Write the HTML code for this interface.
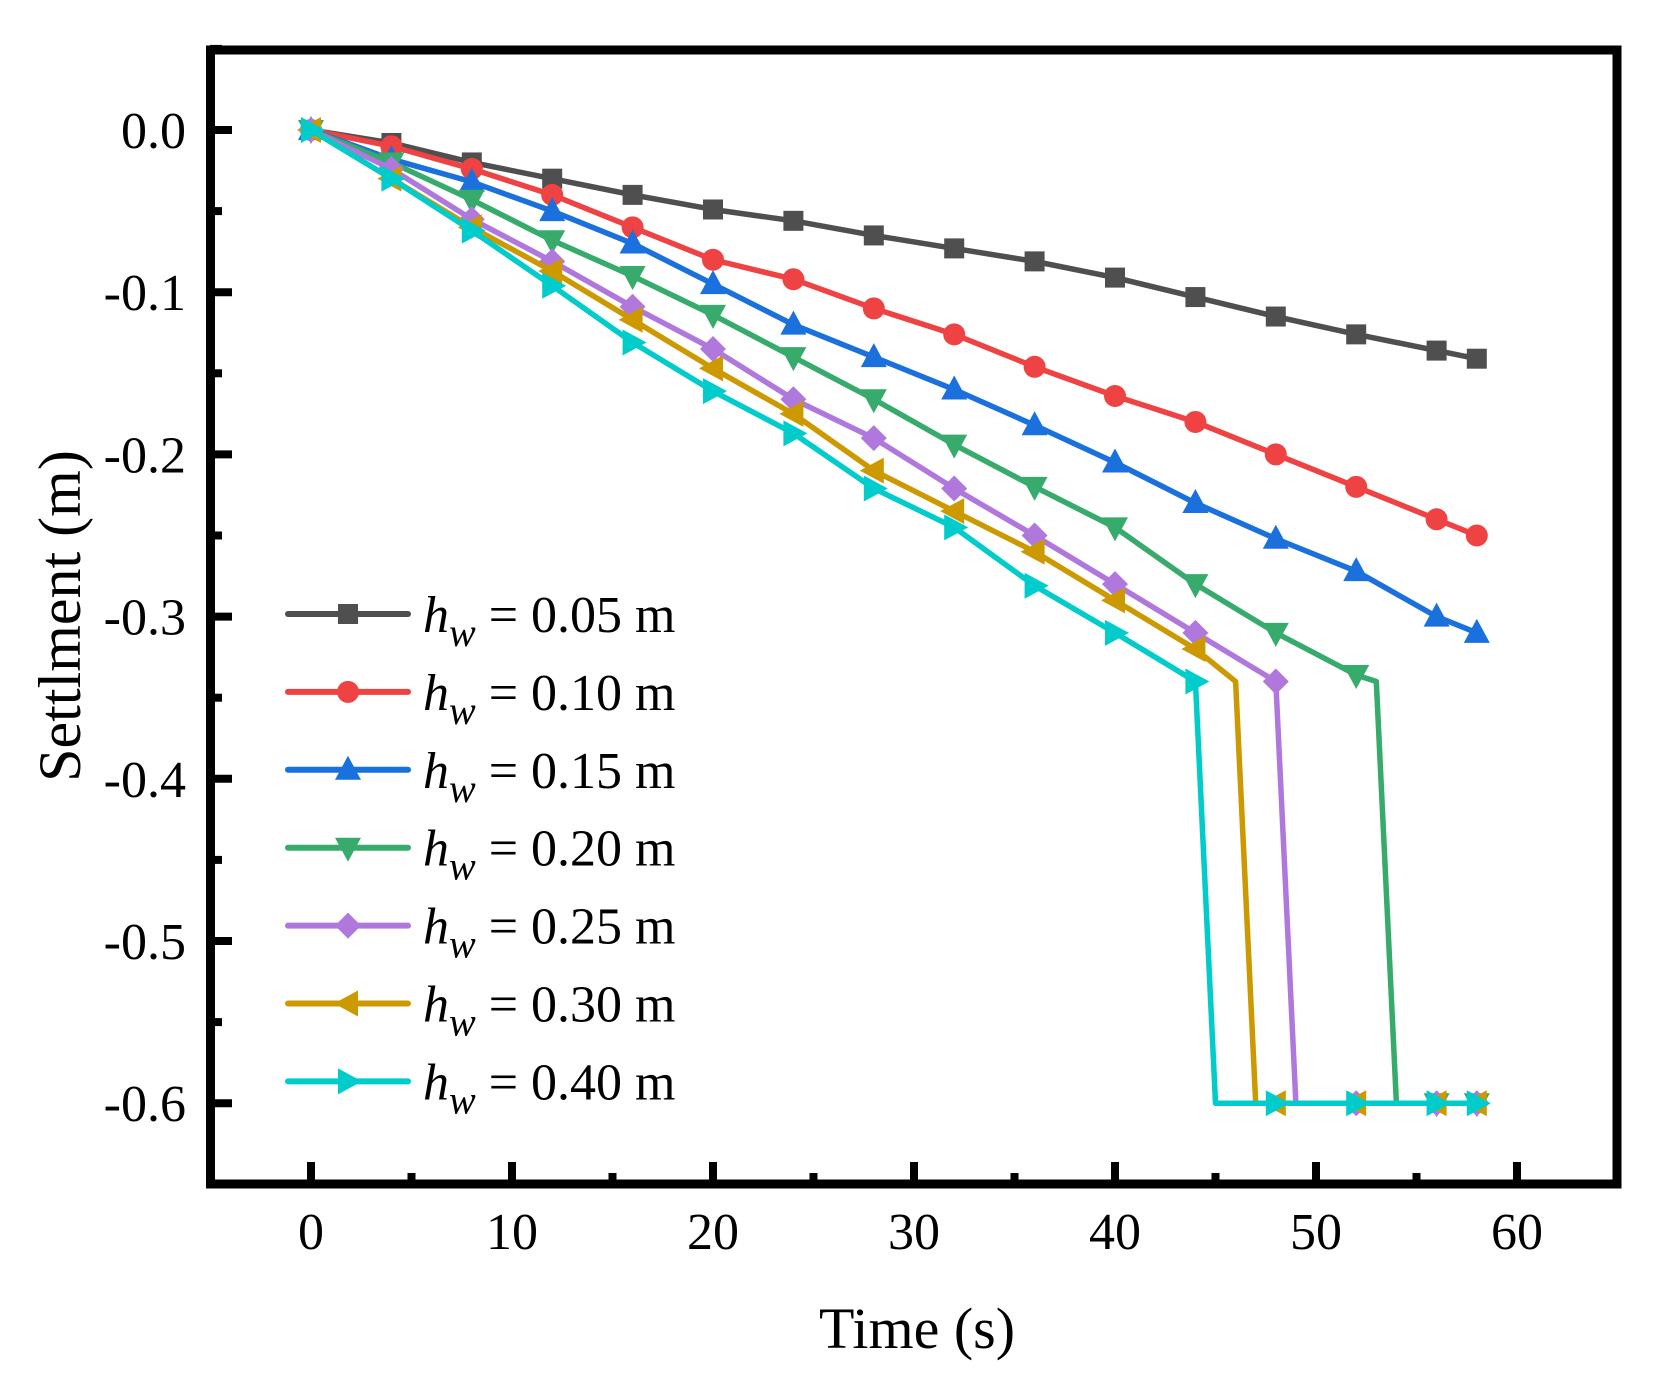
<!DOCTYPE html>
<html><head><meta charset="utf-8"><style>
html,body{margin:0;padding:0;background:#fff;}
svg{display:block;font-family:"Liberation Serif",serif;}
</style></head>
<body>
<svg id="chart" width="1659" height="1379" viewBox="0 0 1659 1379" xmlns="http://www.w3.org/2000/svg">
<g id="plot"></g>
<g id="axes"></g>
<g id="legend"></g>
</svg>
<script>
const xTicks = [0,10,20,30,40,50,60];
const xTickLabels = ["0","10","20","30","40","50","60"];
const yTicks = [0,-0.1,-0.2,-0.3,-0.4,-0.5,-0.6];
const yTickLabels = ["0.0","-0.1","-0.2","-0.3","-0.4","-0.5","-0.6"];
const seriesNames = ["0.05","0.10","0.15","0.20","0.25","0.30","0.40"];
const tA = [0,4,8,12,16,20,24,28,32,36,40,44,48,52,56,58];
const s005 = [0,-0.008,-0.02,-0.03,-0.04,-0.049,-0.056,-0.065,-0.073,-0.081,-0.091,-0.103,-0.115,-0.126,-0.136,-0.141];
const s010 = [0,-0.01,-0.024,-0.04,-0.06,-0.08,-0.092,-0.11,-0.126,-0.146,-0.164,-0.18,-0.2,-0.22,-0.24,-0.25];
const s015 = [0,-0.018,-0.032,-0.05,-0.07,-0.095,-0.12,-0.14,-0.16,-0.182,-0.205,-0.23,-0.252,-0.272,-0.30,-0.31];
const t020 = [0,4,8,12,16,20,24,28,32,36,40,44,48,52,53,54,56,58];
const s020 = [0,-0.02,-0.043,-0.068,-0.09,-0.114,-0.14,-0.166,-0.194,-0.22,-0.245,-0.28,-0.31,-0.336,-0.34,-0.6,-0.6,-0.6];
const t025 = [0,4,8,12,16,20,24,28,32,36,40,44,48,49,52,56,58];
const s025 = [0,-0.024,-0.055,-0.081,-0.109,-0.135,-0.166,-0.19,-0.221,-0.25,-0.28,-0.31,-0.34,-0.6,-0.6,-0.6,-0.6];
const t030 = [0,4,8,12,16,20,24,28,32,36,40,44,46,47,48,52,56,58];
const s030 = [0,-0.03,-0.06,-0.087,-0.117,-0.147,-0.175,-0.21,-0.235,-0.26,-0.29,-0.32,-0.34,-0.6,-0.6,-0.6,-0.6,-0.6];
const t040 = [0,4,8,12,16,20,24,28,32,36,40,44,45,48,52,56,58];
const s040 = [0,-0.03,-0.062,-0.096,-0.131,-0.161,-0.187,-0.221,-0.245,-0.281,-0.31,-0.34,-0.6,-0.6,-0.6,-0.6,-0.6];

const NS="http://www.w3.org/2000/svg";
function X(t){return 311+(t/10)*201;}
function Y(v){return 130-(v/0.1)*(-162.2)*-1;}
function mk(tag,attrs,parent){const e=document.createElementNS(NS,tag);for(const k in attrs)e.setAttribute(k,attrs[k]);parent.appendChild(e);return e;}
const plot=document.getElementById('plot'),axes=document.getElementById('axes'),legend=document.getElementById('legend');

const series=[
 {t:tA,v:s005,c:"#4f4f4f",m:"square"},
 {t:tA,v:s010,c:"#ef4242",m:"circle"},
 {t:tA,v:s015,c:"#1a70dc",m:"up"},
 {t:t020,v:s020,c:"#37ab6b",m:"down"},
 {t:t025,v:s025,c:"#b078dc",m:"diamond"},
 {t:t030,v:s030,c:"#cc9900",m:"left"},
 {t:t040,v:s040,c:"#00cccc",m:"right"}
];
function marker(type,x,y,c,parent){
 const r=12;let e;
 if(type==="square")e=mk('rect',{x:x-10,y:y-10,width:20,height:20,fill:c},parent);
 else if(type==="circle")e=mk('circle',{cx:x,cy:y,r:11,fill:c},parent);
 else{let p;
  if(type==="up")p=[[x,y-r-2],[x-r-1,y+r-2],[x+r+1,y+r-2]];
  if(type==="down")p=[[x,y+r+2],[x-r-1,y-r+2],[x+r+1,y-r+2]];
  if(type==="left")p=[[x-r-2,y],[x+r-2,y-r-1],[x+r-2,y+r+1]];
  if(type==="right")p=[[x+r+2,y],[x-r+2,y-r-1],[x-r+2,y+r+1]];
  if(type==="diamond")p=[[x,y-r-1],[x+r+1,y],[x,y+r+1],[x-r-1,y]];
  e=mk('polygon',{points:p.map(q=>q.join(',')).join(' '),fill:c},parent);}
 return e;
}
series.forEach((s,i)=>{
 const g=mk('g',{},plot);
 
 
 const pts=s.t.map((t,j)=>X(t)+','+Y(s.v[j])).join(' ');
 const pl=mk('polyline',{points:pts,fill:'none',stroke:s.c,'stroke-width':5.5,'stroke-linejoin':'round'},g);
 
 
 s.t.forEach((t,j)=>{if(t%4===0||t===58){const m=marker(s.m,X(t),Y(s.v[j]),s.c,g);
  
  }});
});

// frame
const fr=mk('rect',{x:210.5,y:50,width:1406.5,height:1134,fill:'none',stroke:'#000','stroke-width':9},axes);


// x ticks
xTicks.forEach((t,i)=>{
 const l=mk('line',{x1:X(t),x2:X(t),y1:1184,y2:1162,stroke:'#000','stroke-width':8},axes);
 
 
 const tx=mk('text',{x:X(t),y:1249,'font-size':52,'text-anchor':'middle',fill:'#000'},axes);
 tx.textContent=xTickLabels[i];
 
 
 if(i<xTicks.length-1){const m=mk('line',{x1:X(t+5),x2:X(t+5),y1:1184,y2:1173,stroke:'#000','stroke-width':8},axes);
  
  }
});
yTicks.forEach((v,i)=>{
 const l=mk('line',{x1:210,x2:232,y1:Y(v),y2:Y(v),stroke:'#000','stroke-width':8},axes);
 
 
 const tx=mk('text',{x:186,y:Y(v)+18,'font-size':52,'text-anchor':'end',fill:'#000'},axes);
 tx.textContent=yTickLabels[i];
 
 
});
[0.05,-0.05,-0.15,-0.25,-0.35,-0.45,-0.55,-0.65].forEach(v=>{
 const m=mk('line',{x1:210,x2:222,y1:Y(v),y2:Y(v),stroke:'#000','stroke-width':8},axes);
 
 
});
const xt=mk('text',{x:917,y:1348,'font-size':58,'text-anchor':'middle',fill:'#000'},axes);
xt.textContent='Time (s)';


const yt=mk('text',{x:0,y:0,'font-size':60,'text-anchor':'middle',fill:'#000',transform:'translate(80,616) rotate(-90)'},axes);
yt.textContent='Settlment (m)';



// legend
series.forEach((s,i)=>{
 const y=614+i*77.9;
 const g=mk('g',{},legend);
 
 
 mk('line',{x1:288,x2:408,y1:y,y2:y,stroke:s.c,'stroke-width':6,'stroke-linecap':'round'},g);
 marker(s.m,348,y,s.c,g);
 const tx=mk('text',{x:423,y:y+18,'font-size':52,fill:'#000'},g);
 const h=mk('tspan',{'font-style':'italic'},tx);h.textContent='h';
 const w=mk('tspan',{'font-style':'italic','font-size':40,dy:14},tx);w.textContent='w';
 const r=mk('tspan',{dy:-14},tx);r.textContent=' = '+seriesNames[i]+' m';
});
</script>
</body></html>
